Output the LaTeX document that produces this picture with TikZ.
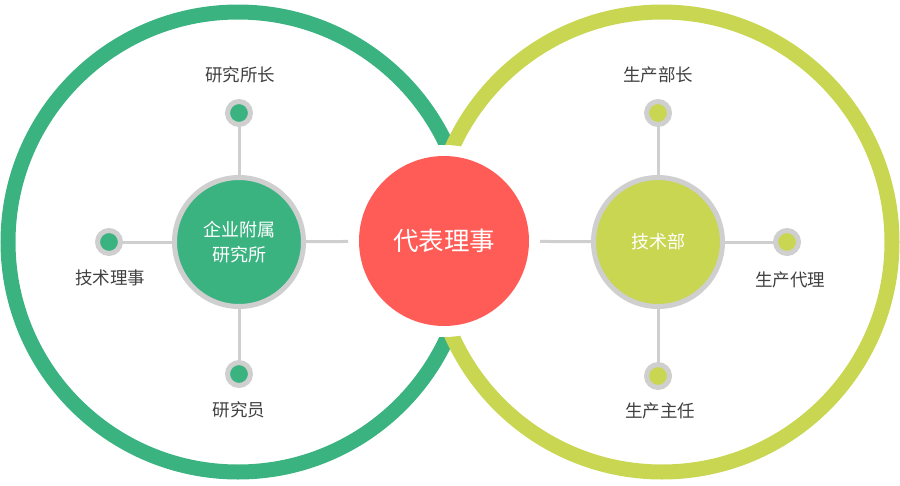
\documentclass[tikz,border=0pt]{standalone}
\usepackage{fontspec}
\setmainfont{Noto Sans CJK SC}
\definecolor{cgreen}{HTML}{3BB381}
\definecolor{cyellow}{HTML}{C9D652}
\definecolor{cred}{HTML}{FF5C57}
\definecolor{cgray}{HTML}{CFCFCF}
\definecolor{ctext}{HTML}{404040}
\begin{document}
\begin{tikzpicture}[x=1pt,y=-1pt,
  ring/.style={line width=15pt},
  hub/.style={circle, draw=cgray, line width=5pt, minimum size=129pt, inner sep=0pt, outer sep=0pt, text=white, font=\fontsize{18}{25}\selectfont, align=center},
  dot/.style={circle, draw=cgray, line width=5pt, minimum size=23pt, inner sep=0pt, outer sep=0pt},
  link/.style={draw=cgray, line width=3pt},
  lbl/.style={text=ctext, font=\fontsize{17.5}{20}\selectfont, inner sep=0pt}
]
\useasboundingbox (0,0) rectangle (900,485);
% rings
\draw[ring, cgreen] (238,242) circle[radius=230pt];
\draw[ring, cyellow] (662,242) circle[radius=230pt];
% gap around centre
\node[circle, fill=white, minimum size=192pt, inner sep=0pt, outer sep=0pt] (gap) at (444,241) {};
% hubs
\node[hub, fill=cgreen] (hubL) at (239,242) {企业附属\\研究所};
\node[hub, fill=cyellow] (hubR) at (658,242) {技术部};
% dots
\node[dot, fill=cgreen] (dLT) at (239,113) {};
\node[dot, fill=cgreen] (dLL) at (109,242) {};
\node[dot, fill=cgreen] (dLB) at (239,374) {};
\node[dot, fill=cyellow] (dRT) at (658,113) {};
\node[dot, fill=cyellow] (dRR) at (787,242) {};
\node[dot, fill=cyellow] (dRB) at (658,376) {};
% links
\draw[link] (hubL) -- (gap);
\draw[link] (gap) -- (hubR);
\draw[link] (dLT) -- (hubL);
\draw[link] (dLL) -- (hubL);
\draw[link] (dLB) -- (hubL);
\draw[link] (dRT) -- (hubR);
\draw[link] (dRR) -- (hubR);
\draw[link] (dRB) -- (hubR);
% centre
\node[circle, fill=cred, minimum size=170pt, inner sep=0pt, outer sep=0pt, text=white, font=\fontsize{25.5}{30}\selectfont] (rep) at (444,241) {代表理事};
% labels
\node[lbl] (tLT) at (240,75) {研究所长};
\node[lbl] (tLL) at (110,278) {技术理事};
\node[lbl] (tLB) at (239,410) {研究员};
\node[lbl] (tRT) at (658,75) {生产部长};
\node[lbl] (tRR) at (790,280) {生产代理};
\node[lbl] (tRB) at (660,411) {生产主任};
\end{tikzpicture}
\end{document}
